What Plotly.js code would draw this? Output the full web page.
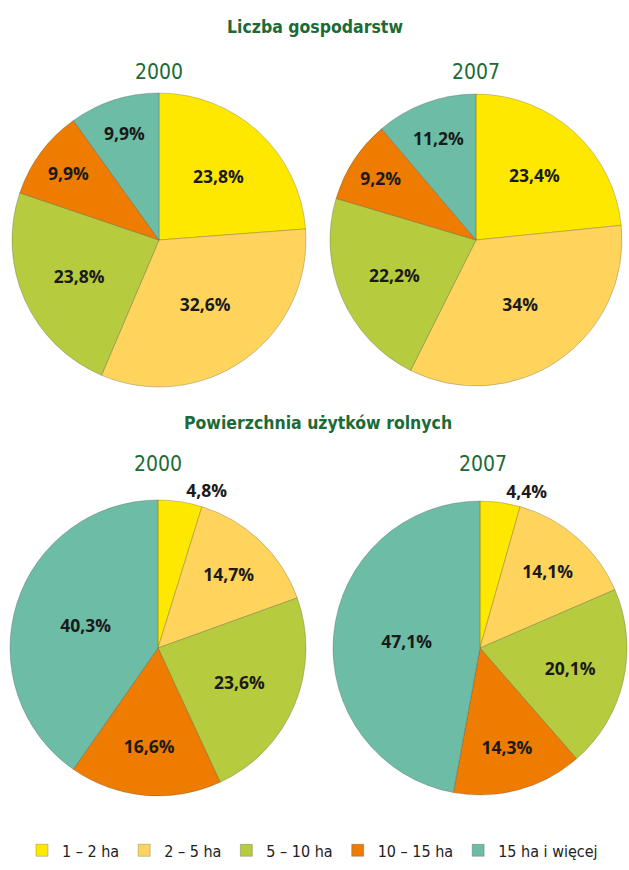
<!DOCTYPE html>
<html>
<head>
<meta charset="utf-8">
<script src="https://cdn.plot.ly/plotly-3.0.1.min.js"></script>
<style>body{margin:0;background:#fff}#plot{width:629px;height:870px}</style>
</head>
<body>
<div id="plot"></div>
<script>
var labels = ['1 – 2 ha', '2 – 5 ha', '5 – 10 ha', '10 – 15 ha', '15 ha i więcej'];
var colors = ['#ffe800', '#ffd45c', '#b6cb3d', '#ee7c00', '#6dbca5'];

var farms2000 = [23.8, 32.6, 23.8, 9.9, 9.9];
var farms2007 = [23.4, 34, 22.2, 9.2, 11.2];
var area2000 = [4.8, 14.7, 23.6, 16.6, 40.3];
var area2007 = [4.4, 14.1, 20.1, 14.3, 47.1];

var W = 629, H = 870;

function pct(v) {
    return String(v).replace('.', ',') + '%';
}

// cx, cy, r in pixels -> domain
function makePie(vals, cx, cy, r, positions) {
    return {
        type: 'pie',
        labels: labels,
        values: vals,
        text: vals.map(pct),
        textinfo: 'text',
        hoverinfo: 'label+text',
        sort: false,
        direction: 'clockwise',
        rotation: 0,
        textposition: positions || 'inside',
        insidetextorientation: 'horizontal',
        textfont: {family: 'Open Sans, DejaVu Sans, sans-serif', size: 17.5, color: '#1a1a1a', weight: 'bold'},
        marker: {colors: colors, line: {color: 'rgba(60,60,60,0.45)', width: 0.6}},
        domain: {
            x: [(cx - r) / W, (cx + r) / W],
            y: [1 - (cy + r) / H, 1 - (cy - r) / H]
        }
    };
}

var outSmall = ['outside', 'inside', 'inside', 'inside', 'inside'];

var data = [
    makePie(farms2000, 159, 240, 147),
    makePie(farms2007, 476, 240, 146),
    makePie(area2000, 158, 648, 148, outSmall),
    makePie(area2007, 480, 648, 147, outSmall)
];

var green = '#1c6a35';
var narrow = 'DejaVu Sans Condensed, Liberation Sans Narrow, Arial Narrow, sans-serif';
var titleFont = {family: narrow, size: 17.5, color: green, weight: 'bold'};
var yearFont = {family: narrow, size: 21, color: green};

function ann(text, x, y, font) {
    return {text: text, x: x / W, y: 1 - y / H, xref: 'paper', yref: 'paper',
            xanchor: 'center', yanchor: 'middle', showarrow: false, font: font};
}

var layout = {
    width: W,
    height: H,
    margin: {l: 0, r: 0, t: 0, b: 0},
    paper_bgcolor: '#ffffff',
    showlegend: true,
    legend: {
        orientation: 'h',
        x: 0.035, y: 0.003,
        xanchor: 'left', yanchor: 'bottom',
        font: {family: narrow, size: 16, color: '#222'},
        traceorder: 'normal',
        itemwidth: 30
    },
    annotations: [
        ann('Liczba gospodarstw', 315, 27, titleFont),
        ann('2000', 159, 72, yearFont),
        ann('2007', 476, 72, yearFont),
        ann('Powierzchnia użytków rolnych', 318, 423, titleFont),
        ann('2000', 158, 464, yearFont),
        ann('2007', 483, 464, yearFont)
    ]
};

Plotly.newPlot('plot', data, layout, {displayModeBar: false});
</script>
</body>
</html>
